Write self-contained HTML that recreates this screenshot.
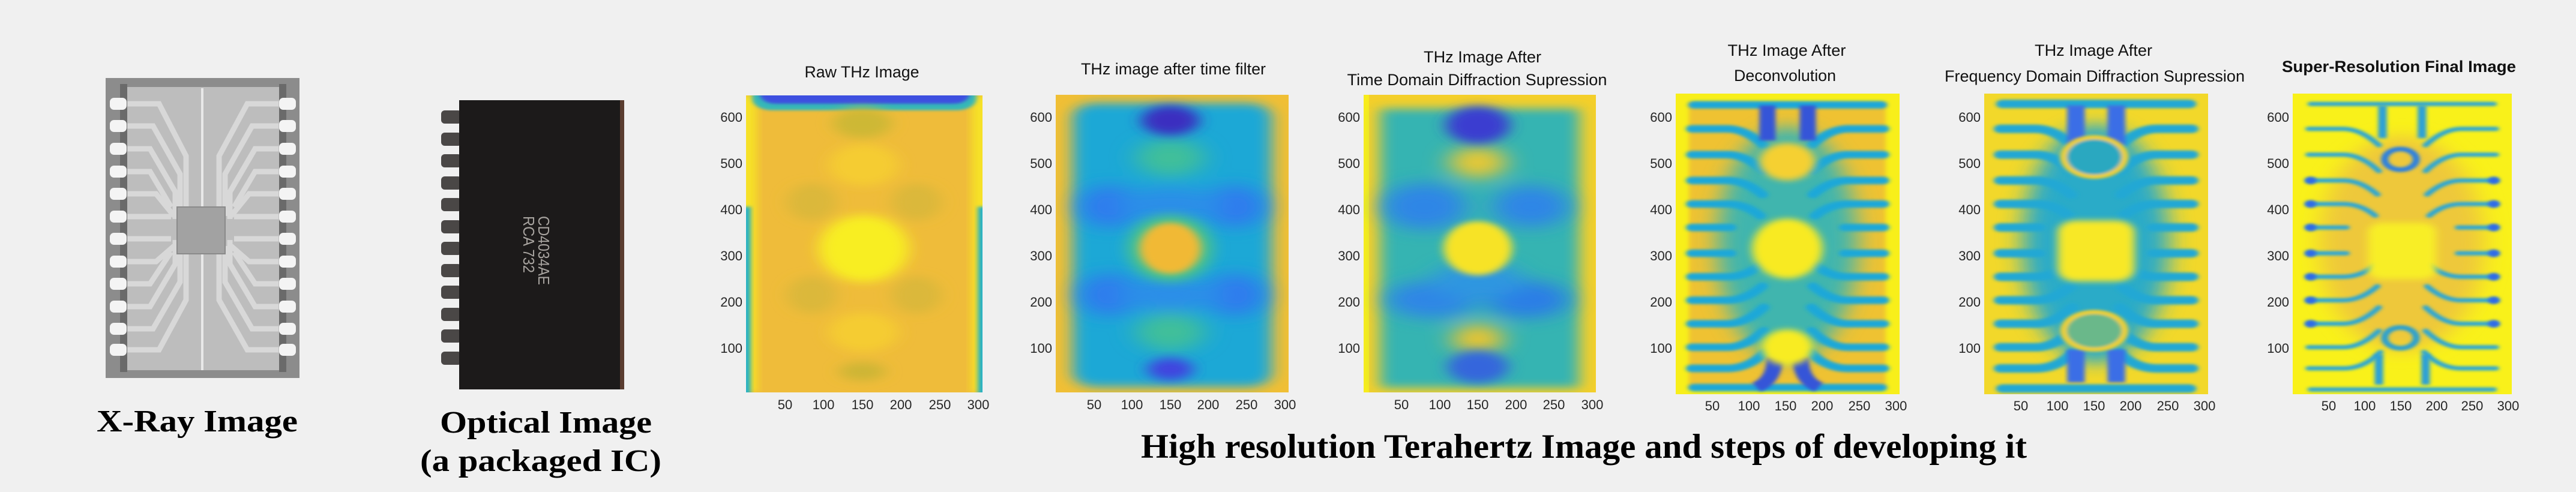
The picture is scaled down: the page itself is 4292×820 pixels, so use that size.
<!DOCTYPE html>
<html><head><meta charset="utf-8"><style>
html,body{margin:0;padding:0;background:#f0f0f0;}
svg{display:block;}
.t{font-family:"Liberation Sans",Arial,sans-serif;font-size:22px;fill:#262626;}
.ti{font-family:"Liberation Sans",Arial,sans-serif;font-size:27px;fill:#111;}
.big{font-family:"Liberation Serif","Times New Roman",serif;font-weight:bold;fill:#000;}
</style></head><body>
<svg width="4292" height="820" viewBox="0 0 4292 820" xmlns="http://www.w3.org/2000/svg">
<defs>
<filter id="b3" x="-30%" y="-30%" width="160%" height="160%"><feGaussianBlur stdDeviation="3"/></filter>
<filter id="b6" x="-30%" y="-30%" width="160%" height="160%"><feGaussianBlur stdDeviation="6"/></filter>
<filter id="b10" x="-30%" y="-30%" width="160%" height="160%"><feGaussianBlur stdDeviation="10"/></filter>
<filter id="b16" x="-30%" y="-30%" width="160%" height="160%"><feGaussianBlur stdDeviation="16"/></filter>
<g id="fing" fill="none" stroke="currentColor" stroke-linecap="round">
<path d="M22 75 L70 75 Q95 75 120 110"/>
<path d="M22 130 L70 130 Q95 130 120 165"/>
<path d="M22 185 L70 185 Q95 185 118 215"/>
<path d="M22 235 L70 235 Q95 235 115 260"/>
<path d="M22 285 L75 285"/>
<path d="M22 340 L75 340"/>
<path d="M22 390 L70 390 Q95 390 115 365"/>
<path d="M22 440 L70 440 Q95 440 118 410"/>
<path d="M22 490 L70 490 Q95 490 120 455"/>
<path d="M22 540 L70 540 Q95 540 120 505"/>
<path d="M22 585 L70 585 Q100 585 122 550"/>
</g>
</defs>
<rect width="4292" height="820" fill="#f0f0f0"/>

<!-- X-ray -->
<g>
<rect x="176" y="130" width="323" height="500" fill="#8c8c8c"/>
<rect x="205" y="145" width="262" height="472" fill="#bdbdbd"/>
<rect x="200" y="140" width="12" height="480" fill="#6a6a6a"/>
<rect x="465" y="140" width="12" height="480" fill="#6a6a6a"/>
<g fill="#f4f4f4">
<rect x="183" y="163" width="28" height="20" rx="7"/><rect x="183" y="200" width="28" height="20" rx="7"/><rect x="183" y="238" width="28" height="20" rx="7"/><rect x="183" y="276" width="28" height="20" rx="7"/><rect x="183" y="313" width="28" height="20" rx="7"/><rect x="183" y="351" width="28" height="20" rx="7"/><rect x="183" y="388" width="28" height="20" rx="7"/><rect x="183" y="426" width="28" height="20" rx="7"/><rect x="183" y="463" width="28" height="20" rx="7"/><rect x="183" y="501" width="28" height="20" rx="7"/><rect x="183" y="538" width="28" height="20" rx="7"/><rect x="183" y="573" width="28" height="20" rx="7"/>
<rect x="465" y="163" width="28" height="20" rx="7"/><rect x="465" y="200" width="28" height="20" rx="7"/><rect x="465" y="238" width="28" height="20" rx="7"/><rect x="465" y="276" width="28" height="20" rx="7"/><rect x="465" y="313" width="28" height="20" rx="7"/><rect x="465" y="351" width="28" height="20" rx="7"/><rect x="465" y="388" width="28" height="20" rx="7"/><rect x="465" y="426" width="28" height="20" rx="7"/><rect x="465" y="463" width="28" height="20" rx="7"/><rect x="465" y="501" width="28" height="20" rx="7"/><rect x="465" y="538" width="28" height="20" rx="7"/><rect x="465" y="573" width="28" height="20" rx="7"/>
</g>
<g fill="none" stroke="#d8d8d8" stroke-width="9">
<path d="M212 173 H265 L310 260 V355"/><path d="M212 210 H255 L300 290 V360"/><path d="M212 248 H250 L292 320 V365"/><path d="M212 286 H250 L285 345"/><path d="M212 323 H260 L290 360"/><path d="M212 361 H285"/><path d="M212 398 H285"/><path d="M212 436 H260 L290 410"/><path d="M212 473 H250 L285 420"/><path d="M212 511 H250 L292 440 V400"/><path d="M212 548 H255 L300 470 V410"/><path d="M212 583 H265 L310 500 V415"/>
<path d="M464 173 H412 L365 260 V355"/><path d="M464 210 H420 L375 290 V360"/><path d="M464 248 H425 L383 320 V365"/><path d="M464 286 H425 L390 345"/><path d="M464 323 H415 L385 360"/><path d="M464 361 H390"/><path d="M464 398 H390"/><path d="M464 436 H415 L385 410"/><path d="M464 473 H425 L390 420"/><path d="M464 511 H425 L383 440 V400"/><path d="M464 548 H420 L375 470 V410"/><path d="M464 583 H412 L365 500 V415"/>
</g>
<rect x="335" y="147" width="4" height="470" fill="#e8e8e8"/>
<rect x="295" y="345" width="80" height="78" fill="#a2a2a2" stroke="#8a8a8a" stroke-width="2"/>
</g>

<!-- Optical -->
<g>
<g fill="#4a4746">
<rect x="735" y="184" width="34" height="22" rx="6"/><rect x="735" y="221" width="34" height="22" rx="6"/><rect x="735" y="257" width="34" height="22" rx="6"/><rect x="735" y="294" width="34" height="22" rx="6"/><rect x="735" y="330" width="34" height="22" rx="6"/><rect x="735" y="367" width="34" height="22" rx="6"/><rect x="735" y="403" width="34" height="22" rx="6"/><rect x="735" y="440" width="34" height="22" rx="6"/><rect x="735" y="476" width="34" height="22" rx="6"/><rect x="735" y="513" width="34" height="22" rx="6"/><rect x="735" y="549" width="34" height="22" rx="6"/><rect x="735" y="586" width="34" height="22" rx="6"/>
</g>
<rect x="765" y="167" width="275" height="482" fill="#5a3d30"/>
<rect x="765" y="167" width="268" height="482" fill="#1c1a1a"/>
<text transform="translate(897,360) rotate(90)" font-family="Liberation Sans,Arial,sans-serif" font-size="26" fill="#a8a4a0" textLength="115" lengthAdjust="spacingAndGlyphs">CD4034AE</text>
<text transform="translate(872,360) rotate(90)" font-family="Liberation Sans,Arial,sans-serif" font-size="26" fill="#a8a4a0" textLength="95" lengthAdjust="spacingAndGlyphs">RCA 732</text>
</g>

<text class="big" x="161" y="719" font-size="52" textLength="335" lengthAdjust="spacingAndGlyphs">X-Ray Image</text>
<text class="big" x="733" y="721" font-size="52" textLength="353" lengthAdjust="spacingAndGlyphs">Optical Image</text>
<text class="big" x="700" y="785" font-size="52" textLength="402" lengthAdjust="spacingAndGlyphs">(a packaged IC)</text>
<text class="big" x="1901" y="763" font-size="57" textLength="1476" lengthAdjust="spacingAndGlyphs">High resolution Terahertz Image and steps of developing it</text>

<!-- Titles -->
<text class="ti" x="1436" y="129" text-anchor="middle" textLength="191" lengthAdjust="spacingAndGlyphs">Raw THz Image</text>
<text class="ti" x="1955" y="124" text-anchor="middle" textLength="308" lengthAdjust="spacingAndGlyphs">THz image after time filter</text>
<text class="ti" x="2470" y="104" text-anchor="middle" textLength="196" lengthAdjust="spacingAndGlyphs">THz Image After</text>
<text class="ti" x="2461" y="142" text-anchor="middle" textLength="433" lengthAdjust="spacingAndGlyphs">Time Domain Diffraction Supression</text>
<text class="ti" x="2977" y="93" text-anchor="middle" textLength="197" lengthAdjust="spacingAndGlyphs">THz Image After</text>
<text class="ti" x="2974" y="135" text-anchor="middle" textLength="170" lengthAdjust="spacingAndGlyphs">Deconvolution</text>
<text class="ti" x="3488" y="93" text-anchor="middle" textLength="196" lengthAdjust="spacingAndGlyphs">THz Image After</text>
<text class="ti" x="3490" y="136" text-anchor="middle" textLength="500" lengthAdjust="spacingAndGlyphs">Frequency Domain Diffraction Supression</text>
<text class="ti" x="3997" y="120" text-anchor="middle" font-weight="bold" textLength="390" lengthAdjust="spacingAndGlyphs">Super-Resolution Final Image</text>

<!-- Panel 1 -->
<svg x="1243" y="159" width="394" height="495" viewBox="0 0 305 640" preserveAspectRatio="none">
<rect width="305" height="640" fill="#efbc3a"/>
<rect x="-10" y="0" width="24" height="640" fill="#f6e228" filter="url(#b6)"/>
<rect x="291" y="0" width="24" height="640" fill="#f6e228" filter="url(#b6)"/>
<rect x="-8" y="240" width="14" height="420" fill="#22b0c8" filter="url(#b3)"/>
<rect x="299" y="240" width="14" height="420" fill="#22b0c8" filter="url(#b3)"/>
<rect x="8" y="-30" width="289" height="62" rx="25" fill="#35b8b8" filter="url(#b3)"/>
<rect x="18" y="-30" width="270" height="48" rx="20" fill="#3d4fe0" filter="url(#b3)"/>
<g filter="url(#b10)">
<ellipse cx="152" cy="150" rx="45" ry="45" fill="#f5cc30"/>
<ellipse cx="152" cy="510" rx="45" ry="42" fill="#f5cc30"/>
<ellipse cx="150" cy="60" rx="38" ry="32" fill="#cdb834"/>
<ellipse cx="150" cy="595" rx="30" ry="20" fill="#cdb534"/>
<ellipse cx="85" cy="230" rx="32" ry="40" fill="#dbb83a"/>
<ellipse cx="220" cy="230" rx="32" ry="40" fill="#dbb83a"/>
<ellipse cx="85" cy="430" rx="32" ry="40" fill="#dbb83a"/>
<ellipse cx="220" cy="430" rx="32" ry="40" fill="#dbb83a"/>
<ellipse cx="152" cy="330" rx="58" ry="72" fill="#f8ee22"/>
</g>
</svg>

<!-- Panel 2 -->
<svg x="1759" y="158" width="388" height="496" viewBox="0 0 305 640" preserveAspectRatio="none">
<rect width="305" height="640" fill="#f0bf35"/>
<rect x="22" y="18" width="261" height="610" rx="30" fill="#1aa8d6" filter="url(#b10)"/>
<g filter="url(#b16)">
<ellipse cx="70" cy="240" rx="40" ry="45" fill="#2f7cee"/>
<ellipse cx="235" cy="240" rx="40" ry="45" fill="#2f7cee"/>
<ellipse cx="70" cy="430" rx="40" ry="45" fill="#2f7cee"/>
<ellipse cx="235" cy="430" rx="40" ry="45" fill="#2f7cee"/>
<ellipse cx="150" cy="235" rx="70" ry="35" fill="#2a8ee8"/>
<ellipse cx="150" cy="430" rx="70" ry="35" fill="#2a8ee8"/>
<ellipse cx="150" cy="135" rx="45" ry="40" fill="#3fbf9a"/>
<ellipse cx="150" cy="510" rx="45" ry="40" fill="#3fbf9a"/>
</g>
<ellipse cx="150" cy="55" rx="38" ry="32" fill="#3a2fc0" filter="url(#b10)"/>
<ellipse cx="150" cy="590" rx="30" ry="24" fill="#3f44df" filter="url(#b10)"/>
<ellipse cx="150" cy="330" rx="56" ry="72" fill="#4cc28a" filter="url(#b10)"/>
<ellipse cx="150" cy="330" rx="40" ry="55" fill="#f1b935" filter="url(#b6)"/>
</svg>

<!-- Panel 3 -->
<svg x="2272" y="158" width="387" height="496" viewBox="0 0 305 640" preserveAspectRatio="none">
<rect width="305" height="640" fill="#f4cf2a"/>
<rect x="-5" y="0" width="12" height="640" fill="#f8ec1c"/>
<rect x="22" y="30" width="261" height="600" fill="#36b4b2" filter="url(#b10)"/>
<g filter="url(#b16)">
<ellipse cx="80" cy="240" rx="55" ry="50" fill="#2f86e6"/>
<ellipse cx="220" cy="240" rx="50" ry="45" fill="#2f86e6"/>
<ellipse cx="90" cy="440" rx="60" ry="40" fill="#2f86e6"/>
<ellipse cx="215" cy="440" rx="55" ry="40" fill="#2b7ee6"/>
<ellipse cx="150" cy="400" rx="60" ry="40" fill="#2f96e0"/>
<ellipse cx="150" cy="145" rx="38" ry="34" fill="#e6c836"/>
<ellipse cx="150" cy="525" rx="34" ry="32" fill="#e8c430"/>
</g>
<ellipse cx="150" cy="65" rx="42" ry="40" fill="#3a3ed0" filter="url(#b10)"/>
<ellipse cx="150" cy="585" rx="40" ry="35" fill="#3566dc" filter="url(#b10)"/>
<ellipse cx="150" cy="330" rx="45" ry="58" fill="#f7e328" filter="url(#b6)"/>
</svg>

<!-- Panel 4 -->
<svg x="2792" y="156" width="373" height="501" viewBox="0 0 305 640" preserveAspectRatio="none">
<rect width="305" height="640" fill="#f8ef1a"/>
<rect x="18" y="18" width="268" height="610" fill="#efc233" filter="url(#b3)"/>
<ellipse cx="152" cy="320" rx="95" ry="250" fill="#3fb5ae" filter="url(#b16)"/>
<g color="#1ea8d8" stroke-width="16" filter="url(#b3)">
<use href="#fing"/>
<use href="#fing" transform="translate(305,0) scale(-1,1)"/>
<path d="M25 24 H280" stroke="currentColor" fill="none" stroke-linecap="round"/>
<path d="M25 626 H280" stroke="currentColor" fill="none" stroke-linecap="round"/>
</g>
<g stroke="#3555d8" stroke-width="22" fill="none" filter="url(#b3)">
<path d="M125 25 V100"/><path d="M180 25 V100"/>
<path d="M110 625 Q135 610 135 560"/><path d="M195 625 Q170 610 170 560"/>
</g>
<ellipse cx="152" cy="145" rx="38" ry="40" fill="#f5d030" filter="url(#b6)"/>
<ellipse cx="152" cy="540" rx="35" ry="38" fill="#f8ec20" filter="url(#b6)"/>
<ellipse cx="152" cy="330" rx="48" ry="64" fill="#f8ea22" filter="url(#b6)"/>
</svg>

<!-- Panel 5 -->
<svg x="3306" y="156" width="373" height="501" viewBox="0 0 305 640" preserveAspectRatio="none">
<rect width="305" height="640" fill="#f2d82a"/>
<ellipse cx="152" cy="320" rx="100" ry="255" fill="#2cabc8" filter="url(#b16)"/>
<g color="#22a8d4" stroke-width="18" filter="url(#b3)">
<use href="#fing"/>
<use href="#fing" transform="translate(305,0) scale(-1,1)"/>
<path d="M25 22 H280" stroke="currentColor" fill="none" stroke-linecap="round"/>
<path d="M25 628 H280" stroke="currentColor" fill="none" stroke-linecap="round"/>
</g>
<g stroke="#3a6ee6" stroke-width="24" fill="none" filter="url(#b3)">
<path d="M125 25 V110"/><path d="M180 25 V110"/>
<path d="M125 615 V545"/><path d="M180 615 V545"/>
</g>
<ellipse cx="150" cy="135" rx="42" ry="42" fill="#2aa8c0" stroke="#f0d030" stroke-width="9" filter="url(#b3)"/>
<ellipse cx="150" cy="505" rx="42" ry="40" fill="#6ab88a" stroke="#f0d030" stroke-width="9" filter="url(#b3)"/>
<rect x="100" y="270" width="105" height="130" rx="25" fill="#f8e826" filter="url(#b6)"/>
</svg>

<!-- Panel 6 -->
<svg x="3820" y="156" width="365" height="501" viewBox="0 0 305 640" preserveAspectRatio="none">
<rect width="305" height="640" fill="#f9f11a"/>
<ellipse cx="152" cy="320" rx="115" ry="230" fill="#eec83a" filter="url(#b16)"/>
<g color="#2aa6d6" stroke-width="9" filter="url(#b3)">
<use href="#fing"/>
<use href="#fing" transform="translate(305,0) scale(-1,1)"/>
<path d="M25 22 H280" stroke="currentColor" fill="none" stroke-linecap="round"/>
<path d="M25 630 H280" stroke="currentColor" fill="none" stroke-linecap="round"/>
</g>
<g fill="#2f6be8" filter="url(#b3)">
<circle cx="25" cy="185" r="8"/><circle cx="25" cy="235" r="8"/><circle cx="25" cy="285" r="8"/><circle cx="25" cy="340" r="8"/><circle cx="25" cy="390" r="8"/><circle cx="25" cy="440" r="8"/><circle cx="25" cy="490" r="8"/>
<circle cx="280" cy="185" r="8"/><circle cx="280" cy="235" r="8"/><circle cx="280" cy="285" r="8"/><circle cx="280" cy="340" r="8"/><circle cx="280" cy="390" r="8"/><circle cx="280" cy="440" r="8"/><circle cx="280" cy="490" r="8"/>
</g>
<g stroke="#2aa0d8" stroke-width="12" fill="none" filter="url(#b3)">
<path d="M125 25 V95"/><path d="M180 25 V95"/>
<path d="M120 620 V555"/><path d="M185 620 V555"/>
</g>
<ellipse cx="150" cy="140" rx="22" ry="22" fill="none" stroke="#2a80e0" stroke-width="10" filter="url(#b3)"/>
<ellipse cx="150" cy="520" rx="22" ry="22" fill="none" stroke="#2aa0d0" stroke-width="10" filter="url(#b3)"/>
<rect x="105" y="275" width="95" height="120" rx="20" fill="#f8ee25" filter="url(#b6)"/>
</svg>

<!-- Tick labels -->
<g class="t" text-anchor="end">
<text x="1237" y="203">600</text><text x="1237" y="280">500</text><text x="1237" y="357">400</text><text x="1237" y="434">300</text><text x="1237" y="511">200</text><text x="1237" y="588">100</text>
<text x="1753" y="203">600</text><text x="1753" y="280">500</text><text x="1753" y="357">400</text><text x="1753" y="434">300</text><text x="1753" y="511">200</text><text x="1753" y="588">100</text>
<text x="2266" y="203">600</text><text x="2266" y="280">500</text><text x="2266" y="357">400</text><text x="2266" y="434">300</text><text x="2266" y="511">200</text><text x="2266" y="588">100</text>
<text x="2786" y="203">600</text><text x="2786" y="280">500</text><text x="2786" y="357">400</text><text x="2786" y="434">300</text><text x="2786" y="511">200</text><text x="2786" y="588">100</text>
<text x="3300" y="203">600</text><text x="3300" y="280">500</text><text x="3300" y="357">400</text><text x="3300" y="434">300</text><text x="3300" y="511">200</text><text x="3300" y="588">100</text>
<text x="3814" y="203">600</text><text x="3814" y="280">500</text><text x="3814" y="357">400</text><text x="3814" y="434">300</text><text x="3814" y="511">200</text><text x="3814" y="588">100</text>
</g>
<g class="t" text-anchor="middle">
<text x="1308" y="682">50</text><text x="1372" y="682">100</text><text x="1437" y="682">150</text><text x="1501" y="682">200</text><text x="1566" y="682">250</text><text x="1630" y="682">300</text>
<text x="1823" y="682">50</text><text x="1886" y="682">100</text><text x="1950" y="682">150</text><text x="2013" y="682">200</text><text x="2077" y="682">250</text><text x="2141" y="682">300</text>
<text x="2335" y="682">50</text><text x="2399" y="682">100</text><text x="2462" y="682">150</text><text x="2526" y="682">200</text><text x="2589" y="682">250</text><text x="2653" y="682">300</text>
<text x="2853" y="684">50</text><text x="2914" y="684">100</text><text x="2975" y="684">150</text><text x="3036" y="684">200</text><text x="3098" y="684">250</text><text x="3159" y="684">300</text>
<text x="3367" y="684">50</text><text x="3428" y="684">100</text><text x="3489" y="684">150</text><text x="3550" y="684">200</text><text x="3612" y="684">250</text><text x="3673" y="684">300</text>
<text x="3880" y="684">50</text><text x="3940" y="684">100</text><text x="4000" y="684">150</text><text x="4060" y="684">200</text><text x="4119" y="684">250</text><text x="4179" y="684">300</text>
</g>
</svg>
</body></html>
